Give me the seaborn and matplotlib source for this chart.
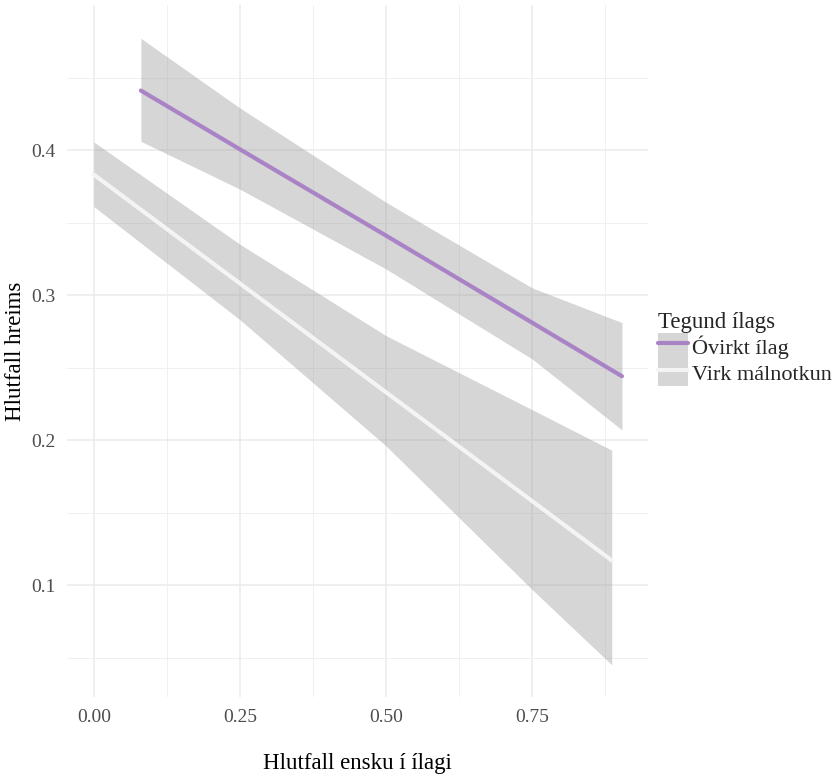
import matplotlib
matplotlib.use("Agg")
import matplotlib.pyplot as plt
import seaborn as sns
import pandas as pd
from matplotlib.lines import Line2D
from matplotlib.patches import Patch

# ---- data ----
groups = ["Óvirkt ílag", "Virk málnotkun"]

x_ovirkt = [0.0805, 0.25, 0.50, 0.75, 0.904]
fit_ovirkt = [0.441, 0.4005, 0.341, 0.281, 0.244]
low_ovirkt = [0.406, 0.373, 0.318, 0.256, 0.207]
upp_ovirkt = [0.477, 0.429, 0.364, 0.305, 0.281]

x_virk = [0.0, 0.25, 0.50, 0.75, 0.8865]
fit_virk = [0.383, 0.308, 0.233, 0.158, 0.117]
low_virk = [0.361, 0.283, 0.196, 0.097, 0.045]
upp_virk = [0.4055, 0.335, 0.272, 0.221, 0.193]

x_ticks = [0.00, 0.25, 0.50, 0.75]
x_tick_labels = ["0.00", "0.25", "0.50", "0.75"]
y_ticks = [0.1, 0.2, 0.3, 0.4]
y_tick_labels = ["0.1", "0.2", "0.3", "0.4"]

line_colors = {"Óvirkt ílag": "#a983c6", "Virk málnotkun": "#f4f4f4"}

df = pd.DataFrame({
    "x": x_ovirkt + x_virk,
    "y": fit_ovirkt + fit_virk,
    "Tegund ílags": [groups[0]] * len(x_ovirkt) + [groups[1]] * len(x_virk),
})

sns.set_theme(style="white")
plt.rcParams["font.family"] = ["Liberation Serif", "DejaVu Serif"]

fig = plt.figure(figsize=(8.37, 7.75), dpi=100)
ax = fig.add_axes([67 / 837, 1 - 697 / 775, (648 - 67) / 837, (697 - 5) / 775])

band_kw = dict(color="#999999", alpha=0.4, linewidth=0, zorder=2)
ax.fill_between(x_ovirkt, low_ovirkt, upp_ovirkt, **band_kw)
ax.fill_between(x_virk, low_virk, upp_virk, **band_kw)

sns.lineplot(data=df, x="x", y="y", hue="Tegund ílags", palette=line_colors,
             linewidth=3.0, ax=ax, legend=False, zorder=3, sort=True,
             estimator=None)

ax.set_xlim(-0.046, 0.9486)
ax.set_ylim(0.0228, 0.5)
ax.set_xticks(x_ticks)
ax.set_xticklabels(x_tick_labels)
ax.set_yticks(y_ticks)
ax.set_yticklabels(y_tick_labels)
ax.set_xticks([0.125, 0.375, 0.625, 0.875], minor=True)
ax.set_yticks([0.05, 0.15, 0.25, 0.35, 0.45], minor=True)

ax.grid(True, which="major", color="#ebebeb", linewidth=1.1, zorder=0)
ax.grid(True, which="minor", color="#f0f0f0", linewidth=0.7, zorder=0)
ax.set_axisbelow(True)
for s in ax.spines.values():
    s.set_visible(False)
ax.tick_params(which="both", length=0)
ax.tick_params(axis="x", labelsize=14, labelcolor="#4d4d4d", pad=9)
ax.tick_params(axis="y", labelsize=14, labelcolor="#4d4d4d", pad=8)

ax.set_xlabel("Hlutfall ensku í ílagi", fontsize=16.5, color="black")
ax.set_ylabel("Hlutfall hreims", fontsize=16.5, color="black")
ax.xaxis.set_label_coords(0.5, -(763 - 697) / 692)
ax.xaxis.label.set_va("center")
ax.yaxis.set_label_coords(-(67 - 16) / 581, 0.5)
ax.yaxis.label.set_va("center")

handles = [
    (Patch(facecolor="#d6d6d6", edgecolor="none"),
     Line2D([], [], color=line_colors[g], linewidth=3.0))
    for g in groups
]
leg = fig.legend(handles, groups, title="Tegund ílags", loc="upper left",
                 bbox_to_anchor=(658 / 837, 1 - 312 / 775), frameon=False,
                 fontsize=16, title_fontsize=16.5, handlelength=1.35,
                 handleheight=1.45, handletextpad=0.2, labelspacing=0.0,
                 borderaxespad=0.0, borderpad=0.0)
leg._legend_box.align = "left"

fig.savefig("out.png", dpi=100, facecolor="white")
